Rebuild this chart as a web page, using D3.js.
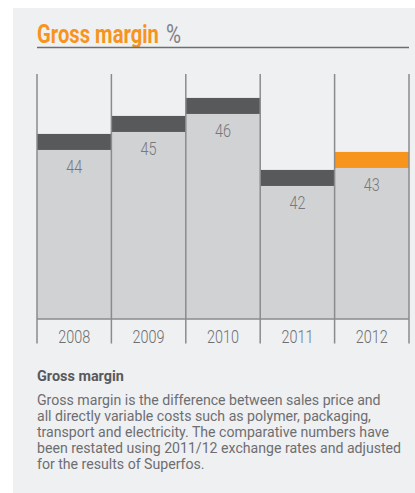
<!DOCTYPE html>
<html>
<head>
<meta charset="utf-8">
<script src="https://cdn.jsdelivr.net/npm/d3@7"></script>
<style>
  html, body { margin: 0; padding: 0; background: #fff; }
  svg { display: block; }
  text { font-family: "Roboto", "Liberation Sans", sans-serif; }
</style>
</head>
<body>
<div id="chart"></div>
<script>
// chart data
const years = ["2008", "2009", "2010", "2011", "2012"];
const grossMargin = [44, 45, 46, 42, 43];
const highlightYear = "2012";

const titleMain = "Gross margin";
const titleUnit = "%";
const noteHeading = "Gross margin";
const noteLines = [
  "Gross margin is the difference between sales price and",
  "all directly variable costs such as polymer, packaging,",
  "transport and electricity. The comparative numbers have",
  "been restated using 2011/12 exchange rates and adjusted",
  "for the results of Superfos."
];

let width = 415, height = 493;
const margin = { top: 74, right: 6, bottom: 174, left: 37 };

const svg = d3.select("#chart")
  .append("svg")
  .attr("width", width)
  .attr("height", height)
  .attr("viewBox", [0, 0, width, height]);

// the reference uses a condensed face: squeeze text horizontally by factor k
function condensed(sel, k, anchorX, baseY) {
  sel.attr("x", 0).attr("y", 0)
    .attr("transform", (d, i) => `translate(${anchorX(d, i)},${baseY(d, i)}) scale(${k},1)`);
}

// grey panel behind everything
svg.append("rect")
  .attr("x", 13).attr("y", 8)
  .attr("width", width - 13).attr("height", height - 8)
  .attr("fill", "#eff0f2");

// title
const title = svg.append("text")
  .attr("font-size", 25).attr("font-weight", "bold")
  .attr("fill", "#f7941d")
  .text(titleMain);
const tw = title.node().getComputedTextLength();
condensed(title, 122 / tw, () => margin.left, () => 42.5);

const unit = svg.append("text")
  .attr("font-size", 25)
  .attr("fill", "#808285")
  .text(titleUnit);
const uw = unit.node().getComputedTextLength();
condensed(unit, 15 / uw, () => 166, () => 42.5);

svg.append("line")
  .attr("x1", margin.left).attr("x2", width - margin.right)
  .attr("y1", 47.5).attr("y2", 47.5)
  .attr("stroke", "#6d6e71").attr("stroke-width", 1.5);

// scales
const data = years.map((y, i) => ({ year: y, value: grossMargin[i] }));
const baseY = 319, axisBottom = 343.5;

const x = d3.scaleBand()
  .domain(years)
  .range([margin.left, width - margin.right]);

// axis is truncated: 18px per percentage point
const y = d3.scaleLinear()
  .domain([33.72, 47.33])
  .range([baseY, margin.top]);

const capH = 16;

// bars (light grey body)
svg.append("g")
  .selectAll("rect")
  .data(data)
  .join("rect")
  .attr("x", d => x(d.year))
  .attr("y", d => y(d.value))
  .attr("width", x.bandwidth())
  .attr("height", d => baseY - y(d.value))
  .attr("fill", "#d1d2d4");

// dark cap on each bar, orange for the current year
svg.append("g")
  .selectAll("rect")
  .data(data)
  .join("rect")
  .attr("x", d => x(d.year))
  .attr("y", d => y(d.value))
  .attr("width", x.bandwidth())
  .attr("height", capH)
  .attr("fill", d => d.year === highlightYear ? "#f7941d" : "#58595b");

// vertical separators
const edges = years.map(d => x(d)).concat([x.range()[1]]);
svg.append("g")
  .selectAll("line")
  .data(edges)
  .join("line")
  .attr("x1", d => d).attr("x2", d => d)
  .attr("y1", margin.top).attr("y2", axisBottom)
  .attr("stroke", "#8a8b8e").attr("stroke-width", 1.5);

// baseline
svg.append("line")
  .attr("x1", margin.left).attr("x2", width - margin.right)
  .attr("y1", baseY).attr("y2", baseY)
  .attr("stroke", "#8a8b8e").attr("stroke-width", 1.5);

// value labels
const valueLabels = svg.append("g")
  .selectAll("text")
  .data(data)
  .join("text")
  .attr("text-anchor", "middle")
  .attr("font-size", 18).attr("font-weight", 300)
  .attr("fill", "#77787b")
  .text(d => d.value);
const vw = valueLabels.node().getComputedTextLength();
condensed(valueLabels, 16 / vw,
  d => x(d.year) + x.bandwidth() / 2,
  d => y(d.value) + capH + 23.5);

// year labels
const yearLabels = svg.append("g")
  .selectAll("text")
  .data(years)
  .join("text")
  .attr("text-anchor", "middle")
  .attr("font-size", 19).attr("font-weight", 300)
  .attr("fill", "#6d6e71")
  .text(d => d);
const yw = yearLabels.node().getComputedTextLength();
condensed(yearLabels, 32 / yw, d => x(d) + x.bandwidth() / 2, () => 343);

// note below the chart
const heading = svg.append("text")
  .attr("font-size", 14).attr("font-weight", "bold")
  .attr("fill", "#58595b")
  .text(noteHeading);
const hw = heading.node().getComputedTextLength();
condensed(heading, 87 / hw, () => margin.left, () => 381);

const body = svg.append("g")
  .selectAll("text")
  .data(noteLines)
  .join("text")
  .attr("font-size", 14.5)
  .attr("fill", "#6d6e71")
  .text(d => d);
const bw = body.node().getComputedTextLength();
condensed(body, 344 / bw, () => margin.left, (d, i) => 404.5 + i * 16);
</script>
</body>
</html>
